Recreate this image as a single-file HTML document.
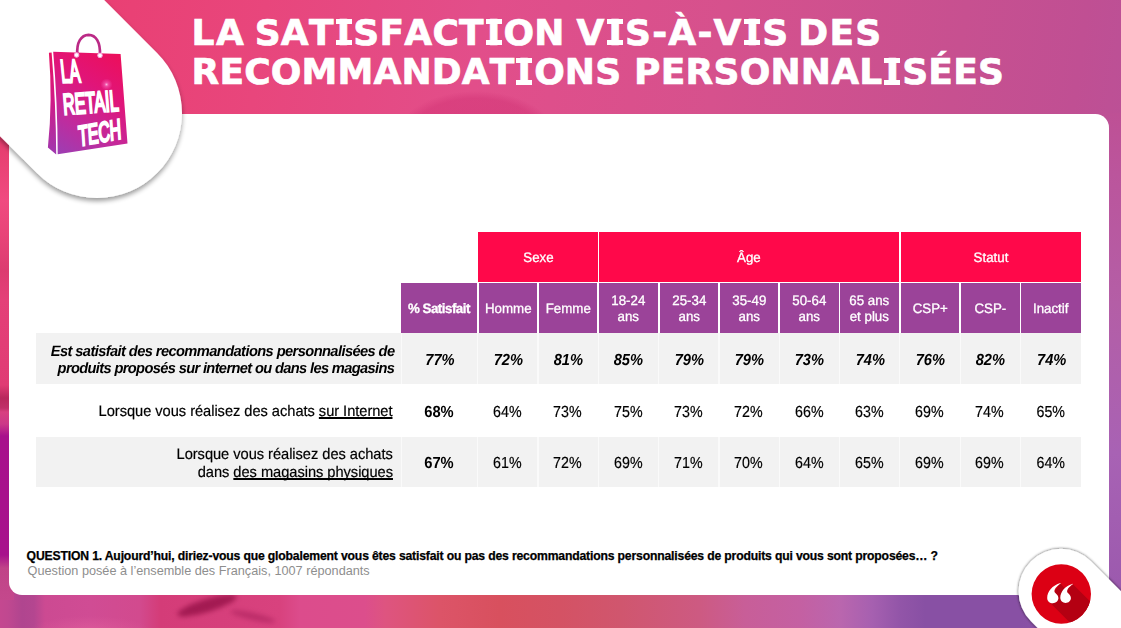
<!DOCTYPE html>
<html lang="fr">
<head>
<meta charset="utf-8">
<title>La satisfaction vis-à-vis des recommandations personnalisées</title>
<style>
*{box-sizing:border-box;margin:0;padding:0}
html,body{width:1121px;height:628px;overflow:hidden}
body{position:relative;font-family:"Liberation Sans",sans-serif;color:#000;
 background:#d84a86;}
#bg{position:absolute;left:0;top:0;width:1121px;height:628px;
 background:
  radial-gradient(ellipse 82px 50px at 476px 141px,rgba(205,45,112,.45) 0,rgba(205,45,112,.40) 85%,rgba(205,45,112,0) 100%),
  linear-gradient(98deg,#ea3c6e 0%,#e8467c 22%,#e24e8a 40%,#d6518d 60%,#c75090 80%,#c04f93 90%,#b6529a 100%);
}
#bgbottom{position:absolute;left:0;top:560px;width:1121px;height:68px;
 background:
  radial-gradient(ellipse 60px 14px at 90px 70px,rgba(230,100,160,.5) 0,rgba(230,100,160,0) 100%),
  linear-gradient(90deg,#c44890 0px,#c04890 8px,#b0458f 22px,#b44690 34px,#cc4a92 45px,#d04c94 90px,#d24a8e 140px,#d43c78 160px,#d8427e 280px,#dc4c8c 300px,#dc4e8c 365px,#de5480 385px,#dc5468 440px,#d8505e 500px,#d45264 560px,#d0566e 620px,#cd5a82 700px,#c85e98 745px,#c460a2 800px,#ba66ae 840px,#a660b0 872px,#9255a8 900px,#8850a4 925px,#8850a4 1020px,#9456aa 1121px);
}
#bgleft{position:absolute;left:0;top:100px;width:14px;height:500px;
 background:linear-gradient(180deg,#e43c6c 0px,#e43c6c 37px,#f04a80 100px,#e84478 135px,#dc3c70 170px,#e44078 200px,#e03c74 285px,#b8285c 298px,#c03068 308px,#d84080 312px,#cc3888 324px,#a8108c 336px,#a8128c 455px,#c04488 468px,#c4488c 500px);
}
#bgright{position:absolute;left:1095px;top:113px;width:26px;height:515px;
 background:linear-gradient(180deg,#be5095 0px,#bb559c 60px,#b45ea6 190px,#a862b4 340px,#9c5aae 470px,#9a59ae 515px);
}
.blob{position:absolute;border-radius:50%}
#card{position:absolute;left:8.6px;top:113.6px;width:1100px;height:481.4px;background:#fff;border-radius:0 13.5px 13px 13px;}
.title{position:absolute;white-space:nowrap;color:#fff;font-family:"DejaVu Sans","Liberation Sans",sans-serif;font-weight:bold;font-size:36px;line-height:40px;font-kerning:none;-webkit-text-stroke:0.7px #fff}
.I{display:inline-block;position:relative;width:0.546em;text-align:center;letter-spacing:0}
.I::before,.I::after{content:"";position:absolute;left:0.05em;right:0.05em;height:5px;background:#fff}
.I::before{top:5.9px}.I::after{top:27.8px}
#tbl div{position:absolute;}
.ht{color:#fff;font-size:13.7px;line-height:16px;height:16px;text-align:center;white-space:nowrap;-webkit-text-stroke:0.3px #fff;text-rendering:geometricPrecision;transform:scaleX(0.973)}
.red{background:#ff084a}
.pur{background:#9b4399}
.gr{background:#f2f2f2}
.sep{background:#fafafa}
.num{font-size:16px;line-height:18px;height:18px;text-align:center;white-space:nowrap;transform:scaleX(0.89);text-rendering:geometricPrecision;-webkit-text-stroke:0.2px #000}
.num.b{transform:scaleX(0.92);-webkit-text-stroke:0}
.num.bi{transform:scaleX(0.915);-webkit-text-stroke:0}
.bi{font-weight:bold;font-style:italic}
.b{font-weight:bold}
.lab{position:absolute;text-align:right;white-space:nowrap;font-size:15.25px;line-height:17px;height:17px;right:728.3px;letter-spacing:-0.05px;transform:scaleX(0.962);transform-origin:100% 50%;text-rendering:geometricPrecision;-webkit-text-stroke:0.2px #000}
.lab.bi{font-size:15px;transform:scaleX(0.978);-webkit-text-stroke:0}
.u{text-decoration:underline;text-underline-offset:1.2px;text-decoration-thickness:1.5px;text-decoration-skip-ink:none}
</style>
</head>
<body>
<div id="bg"></div>
<div id="bgbottom"></div>
<div id="bgleft"></div>
<div class="blob" style="left:176px;top:598.5px;width:62px;height:13px;background:#a31a52;transform:rotate(-17deg);filter:blur(2.5px)"></div>
<div class="blob" style="left:230px;top:613px;width:46px;height:7px;background:#b02460;transform:rotate(13deg);filter:blur(2.5px);opacity:.7"></div>
<div id="bgright"></div>
<div id="card"></div>

<!-- top-left logo pill -->
<svg id="pill1" width="300" height="300" viewBox="0 0 300 300" style="position:absolute;left:0;top:0;overflow:visible">
 <defs>
  <filter id="sh1" filterUnits="userSpaceOnUse" x="-400" y="-400" width="800" height="800">
   <feGaussianBlur in="SourceAlpha" stdDeviation="2.5"/>
   <feOffset dx="0" dy="2.5"/>
   <feComponentTransfer><feFuncA type="linear" slope="0.4"/></feComponentTransfer>
   <feMerge><feMergeNode/><feMergeNode in="SourceGraphic"/></feMerge>
  </filter>
  <linearGradient id="bagg" gradientUnits="userSpaceOnUse" x1="118" y1="55" x2="58" y2="152">
   <stop offset="0" stop-color="#ec0f5c"/>
   <stop offset="0.35" stop-color="#e0157a"/>
   <stop offset="0.7" stop-color="#c22a9c"/>
   <stop offset="1" stop-color="#9e3db2"/>
  </linearGradient>
  <radialGradient id="spark"><stop offset="0" stop-color="#ffd0f0" stop-opacity=".85"/><stop offset="0.35" stop-color="#ff8fdc" stop-opacity=".4"/><stop offset="1" stop-color="#ff70d0" stop-opacity="0"/></radialGradient>
  <linearGradient id="bagg2" gradientUnits="userSpaceOnUse" x1="50" y1="52" x2="52" y2="152">
   <stop offset="0" stop-color="#e81364"/>
   <stop offset="0.5" stop-color="#d01b88"/>
   <stop offset="1" stop-color="#a237ae"/>
  </linearGradient>
 </defs>
 <g filter="url(#sh1)"><rect x="-300" y="-85" width="385" height="170" rx="85" transform="translate(97,113) rotate(45)" fill="#fff"/></g>
 <!-- bag -->
 <path d="M77.4,55.2 C76.2,42 81.3,34.9 88.6,34.8 C95.9,34.9 100.6,42 99.9,55.2" fill="none" stroke="#bb2a86" stroke-width="2.7"/>
 <path d="M48.9,52.7 L51.6,52.4 Q55.9,103 56.2,154.4 L47.9,147.6 Q52.8,100 48.9,52.7Z" fill="url(#bagg2)"/>
 <path d="M53.2,51.7 L120.6,54 L127.5,143.5 L57.7,154.3 Q57.6,103 53.2,51.7Z" fill="url(#bagg)"/>
 <circle cx="106.5" cy="84.5" r="6" fill="url(#spark)"/>
 <circle cx="76.6" cy="55.0" r="2.3" fill="#fff" stroke="#f7a6dc" stroke-width="1"/>
 <circle cx="100.0" cy="55.4" r="2.3" fill="#fff" stroke="#f7a6dc" stroke-width="1"/>
 <g fill="#fff" stroke="#fff" stroke-linejoin="miter" font-family="'Liberation Sans',sans-serif" font-weight="normal">
  <text transform="matrix(0.5263,-0.0088,0.1095,1.0714,61.637,82.521)" font-size="30" stroke-width="2.0" vector-effect="non-scaling-stroke">LA</text>
  <text transform="matrix(0.5387,-0.0402,0.0762,0.9667,63.857,114.596)" font-size="30" stroke-width="2.0" vector-effect="non-scaling-stroke">RETAIL</text>
  <text transform="matrix(0.5247,-0.0925,0.0619,0.9333,78.885,146.006)" font-size="30" stroke-width="2.0" vector-effect="non-scaling-stroke">TECH</text>
 </g>
</svg>

<!-- bottom-right quote pill -->
<svg id="pill2" width="1121" height="628" viewBox="0 0 1121 628" style="position:absolute;left:0;top:0;overflow:hidden;pointer-events:none">
 <defs>
  <filter id="sh2" filterUnits="userSpaceOnUse" x="900" y="450" width="600" height="600">
   <feGaussianBlur in="SourceAlpha" stdDeviation="1.6"/>
   <feOffset dx="0" dy="0"/>
   <feComponentTransfer><feFuncA type="linear" slope="0.75"/></feComponentTransfer>
   <feMerge><feMergeNode/><feMergeNode in="SourceGraphic"/></feMerge>
  </filter>
  <clipPath id="cc"><circle cx="1061.3" cy="594" r="29.7"/></clipPath>
 </defs>
 <g filter="url(#sh2)"><rect x="-42.5" y="-42.5" width="400" height="85" rx="42.5" transform="translate(1061,591.3) rotate(45)" fill="#fff"/></g>
 <circle cx="1061.3" cy="594" r="29.7" fill="#dc0014"/>
 <g clip-path="url(#cc)">
  <polygon points="1048.8,601.5 1054,592 1060.4,583.2 1066,590 1072.9,584.2 1130,641.3 1088.3,641" fill="#b40012"/>
 </g>
 <g fill="#fff">
  <path transform="translate(1052.8,597.9)" d="M-5.6,0 C-5.6,-6.5 -0.5,-12.5 7.7,-14.9 L7.9,-14.4 C3.5,-11.5 0.8,-8 1.9,-5.6 C3.2,-4 5.6,-2.8 5.6,0.2 C5.6,3.2 3,5.4 0,5.4 C-3,5.4 -5.6,3.2 -5.6,0Z"/>
  <path transform="translate(1065.6,597.8) scale(0.95)" d="M-5.6,0 C-5.6,-6.5 -0.5,-12.5 7.7,-14.9 L7.9,-14.4 C3.5,-11.5 0.8,-8 1.9,-5.6 C3.2,-4 5.6,-2.8 5.6,0.2 C5.6,3.2 3,5.4 0,5.4 C-3,5.4 -5.6,3.2 -5.6,0Z"/>
 </g>
</svg>

<div id="title">
<span class="title" style="left:191.6px;top:12.7px;letter-spacing:1.4px">LA</span>
<span class="title" style="left:254.7px;top:12.7px;letter-spacing:0.222px">SAT<span class="I">I</span>SFACT<span class="I">I</span>ON</span>
<span class="title" style="left:576.4px;top:12.7px;letter-spacing:1.2px">V<span class="I">I</span>S-À-V<span class="I">I</span>S</span>
<span class="title" style="left:798.3px;top:12.7px;letter-spacing:1.25px">DES</span>
<span class="title" style="left:191.6px;top:51.85px;letter-spacing:0.146px">RECOMMANDAT<span class="I">I</span>ONS</span>
<span class="title" style="left:634.0px;top:51.85px;letter-spacing:0.25px">PERSONNAL<span class="I">I</span>SÉES</span>
</div>

<div id="tbl">
<div class="red" style="left:478.15px;top:231.80px;width:119.55px;height:49.80px;"></div>
<div class="red" style="left:599.00px;top:231.80px;width:300.20px;height:49.80px;"></div>
<div class="red" style="left:900.50px;top:231.80px;width:180.25px;height:49.80px;"></div>
<div class="ht" style="left:478.60px;top:250px;width:118.90px;">Sexe</div>
<div class="ht" style="left:599.20px;top:250px;width:299.80px;">Âge</div>
<div class="ht" style="left:900.70px;top:250px;width:180.05px;">Statut</div>
<div class="pur" style="left:401.10px;top:283.00px;width:75.70px;height:49.50px;"></div>
<div class="ht b" style="left:401.10px;top:301px;width:75.90px;letter-spacing:-0.52px">% Satisfait</div>
<div class="pur" style="left:478.60px;top:283.00px;width:58.60px;height:49.50px;"></div>
<div class="ht" style="left:478.60px;top:301px;width:58.60px;">Homme</div>
<div class="pur" style="left:538.90px;top:283.00px;width:58.60px;height:49.50px;"></div>
<div class="ht" style="left:538.90px;top:301px;width:58.60px;">Femme</div>
<div class="pur" style="left:599.20px;top:283.00px;width:58.60px;height:49.50px;"></div>
<div class="ht" style="left:599.20px;top:293px;width:58.60px;">18-24</div>
<div class="ht" style="left:599.20px;top:309px;width:58.60px;">ans</div>
<div class="pur" style="left:659.50px;top:283.00px;width:58.60px;height:49.50px;"></div>
<div class="ht" style="left:659.50px;top:293px;width:58.60px;">25-34</div>
<div class="ht" style="left:659.50px;top:309px;width:58.60px;">ans</div>
<div class="pur" style="left:719.80px;top:283.00px;width:58.60px;height:49.50px;"></div>
<div class="ht" style="left:719.80px;top:293px;width:58.60px;">35-49</div>
<div class="ht" style="left:719.80px;top:309px;width:58.60px;">ans</div>
<div class="pur" style="left:780.10px;top:283.00px;width:58.60px;height:49.50px;"></div>
<div class="ht" style="left:780.10px;top:293px;width:58.60px;">50-64</div>
<div class="ht" style="left:780.10px;top:309px;width:58.60px;">ans</div>
<div class="pur" style="left:840.40px;top:283.00px;width:58.60px;height:49.50px;"></div>
<div class="ht" style="left:840.40px;top:293px;width:58.60px;">65 ans</div>
<div class="ht" style="left:840.40px;top:309px;width:58.60px;">et plus</div>
<div class="pur" style="left:900.70px;top:283.00px;width:58.60px;height:49.50px;"></div>
<div class="ht" style="left:900.70px;top:301px;width:58.60px;">CSP+</div>
<div class="pur" style="left:961.00px;top:283.00px;width:58.60px;height:49.50px;"></div>
<div class="ht" style="left:961.00px;top:301px;width:58.60px;">CSP-</div>
<div class="pur" style="left:1021.30px;top:283.00px;width:59.45px;height:49.50px;"></div>
<div class="ht" style="left:1021.30px;top:301px;width:59.45px;">Inactif</div>
<div class="gr" style="left:36.20px;top:333.40px;width:1044.55px;height:51.10px;"></div>
<div class="sep" style="left:400.70px;top:333.40px;width:1.00px;height:51.10px;"></div>
<div class="sep" style="left:477.15px;top:333.40px;width:1.20px;height:51.10px;"></div>
<div class="sep" style="left:537.45px;top:333.40px;width:1.20px;height:51.10px;"></div>
<div class="sep" style="left:597.75px;top:333.40px;width:1.20px;height:51.10px;"></div>
<div class="sep" style="left:658.05px;top:333.40px;width:1.20px;height:51.10px;"></div>
<div class="sep" style="left:718.35px;top:333.40px;width:1.20px;height:51.10px;"></div>
<div class="sep" style="left:778.65px;top:333.40px;width:1.20px;height:51.10px;"></div>
<div class="sep" style="left:838.95px;top:333.40px;width:1.20px;height:51.10px;"></div>
<div class="sep" style="left:899.25px;top:333.40px;width:1.20px;height:51.10px;"></div>
<div class="sep" style="left:959.55px;top:333.40px;width:1.20px;height:51.10px;"></div>
<div class="sep" style="left:1019.85px;top:333.40px;width:1.20px;height:51.10px;"></div>
<div class="gr" style="left:36.20px;top:436.80px;width:1044.55px;height:50.20px;"></div>
<div class="sep" style="left:400.70px;top:436.80px;width:1.00px;height:50.20px;"></div>
<div class="sep" style="left:477.15px;top:436.80px;width:1.20px;height:50.20px;"></div>
<div class="sep" style="left:537.45px;top:436.80px;width:1.20px;height:50.20px;"></div>
<div class="sep" style="left:597.75px;top:436.80px;width:1.20px;height:50.20px;"></div>
<div class="sep" style="left:658.05px;top:436.80px;width:1.20px;height:50.20px;"></div>
<div class="sep" style="left:718.35px;top:436.80px;width:1.20px;height:50.20px;"></div>
<div class="sep" style="left:778.65px;top:436.80px;width:1.20px;height:50.20px;"></div>
<div class="sep" style="left:838.95px;top:436.80px;width:1.20px;height:50.20px;"></div>
<div class="sep" style="left:899.25px;top:436.80px;width:1.20px;height:50.20px;"></div>
<div class="sep" style="left:959.55px;top:436.80px;width:1.20px;height:50.20px;"></div>
<div class="sep" style="left:1019.85px;top:436.80px;width:1.20px;height:50.20px;"></div>
<div class="num bi" style="left:402.10px;top:352.00px;width:75.90px">77%</div>
<div class="num bi" style="left:478.80px;top:352.00px;width:58.60px">72%</div>
<div class="num bi" style="left:539.10px;top:352.00px;width:58.60px">81%</div>
<div class="num bi" style="left:599.40px;top:352.00px;width:58.60px">85%</div>
<div class="num bi" style="left:659.70px;top:352.00px;width:58.60px">79%</div>
<div class="num bi" style="left:720.00px;top:352.00px;width:58.60px">79%</div>
<div class="num bi" style="left:780.30px;top:352.00px;width:58.60px">73%</div>
<div class="num bi" style="left:840.60px;top:352.00px;width:58.60px">74%</div>
<div class="num bi" style="left:900.90px;top:352.00px;width:58.60px">76%</div>
<div class="num bi" style="left:961.20px;top:352.00px;width:58.60px">82%</div>
<div class="num bi" style="left:1021.50px;top:352.00px;width:59.45px">74%</div>
<div class="num b" style="left:401.10px;top:404.00px;width:75.90px">68%</div>
<div class="num" style="left:478.00px;top:404.00px;width:58.60px">64%</div>
<div class="num" style="left:538.30px;top:404.00px;width:58.60px">73%</div>
<div class="num" style="left:598.60px;top:404.00px;width:58.60px">75%</div>
<div class="num" style="left:658.90px;top:404.00px;width:58.60px">73%</div>
<div class="num" style="left:719.20px;top:404.00px;width:58.60px">72%</div>
<div class="num" style="left:779.50px;top:404.00px;width:58.60px">66%</div>
<div class="num" style="left:839.80px;top:404.00px;width:58.60px">63%</div>
<div class="num" style="left:900.10px;top:404.00px;width:58.60px">69%</div>
<div class="num" style="left:960.40px;top:404.00px;width:58.60px">74%</div>
<div class="num" style="left:1020.70px;top:404.00px;width:59.45px">65%</div>
<div class="num b" style="left:401.10px;top:455.00px;width:75.90px">67%</div>
<div class="num" style="left:478.00px;top:455.00px;width:58.60px">61%</div>
<div class="num" style="left:538.30px;top:455.00px;width:58.60px">72%</div>
<div class="num" style="left:598.60px;top:455.00px;width:58.60px">69%</div>
<div class="num" style="left:658.90px;top:455.00px;width:58.60px">71%</div>
<div class="num" style="left:719.20px;top:455.00px;width:58.60px">70%</div>
<div class="num" style="left:779.50px;top:455.00px;width:58.60px">64%</div>
<div class="num" style="left:839.80px;top:455.00px;width:58.60px">65%</div>
<div class="num" style="left:900.10px;top:455.00px;width:58.60px">69%</div>
<div class="num" style="left:960.40px;top:455.00px;width:58.60px">69%</div>
<div class="num" style="left:1020.70px;top:455.00px;width:59.45px">64%</div>
</div>


<div class="lab bi" id="l1a" style="top:343px;letter-spacing:-0.61px;right:726.6px">Est satisfait des recommandations personnalisées de</div>
<div class="lab bi" id="l1b" style="top:360px;letter-spacing:-0.67px;right:726.6px">produits proposés sur internet ou dans les magasins</div>
<div class="lab" id="l2" style="top:403px">Lorsque vous réalisez des achats <span class="u">sur Internet</span></div>
<div class="lab" id="l3a" style="top:446px">Lorsque vous réalisez des achats</div>
<div class="lab" id="l3b" style="top:464px">dans <span class="u">des magasins physiques</span></div>

<div id="q1" style="position:absolute;left:26.6px;top:549px;font-weight:bold;font-size:12.2px;line-height:15px;letter-spacing:-0.167px;-webkit-text-stroke:0.25px #000;white-space:nowrap">QUESTION 1. Aujourd’hui, diriez-vous que globalement vous êtes satisfait ou pas des recommandations personnalisées de produits qui vous sont proposées… ?</div>
<div id="q2" style="position:absolute;left:27.6px;top:563.5px;font-size:12.7px;line-height:15px;color:#8e8e8e;white-space:nowrap">Question posée à l’ensemble des Français, 1007 répondants</div>

</body>
</html>
